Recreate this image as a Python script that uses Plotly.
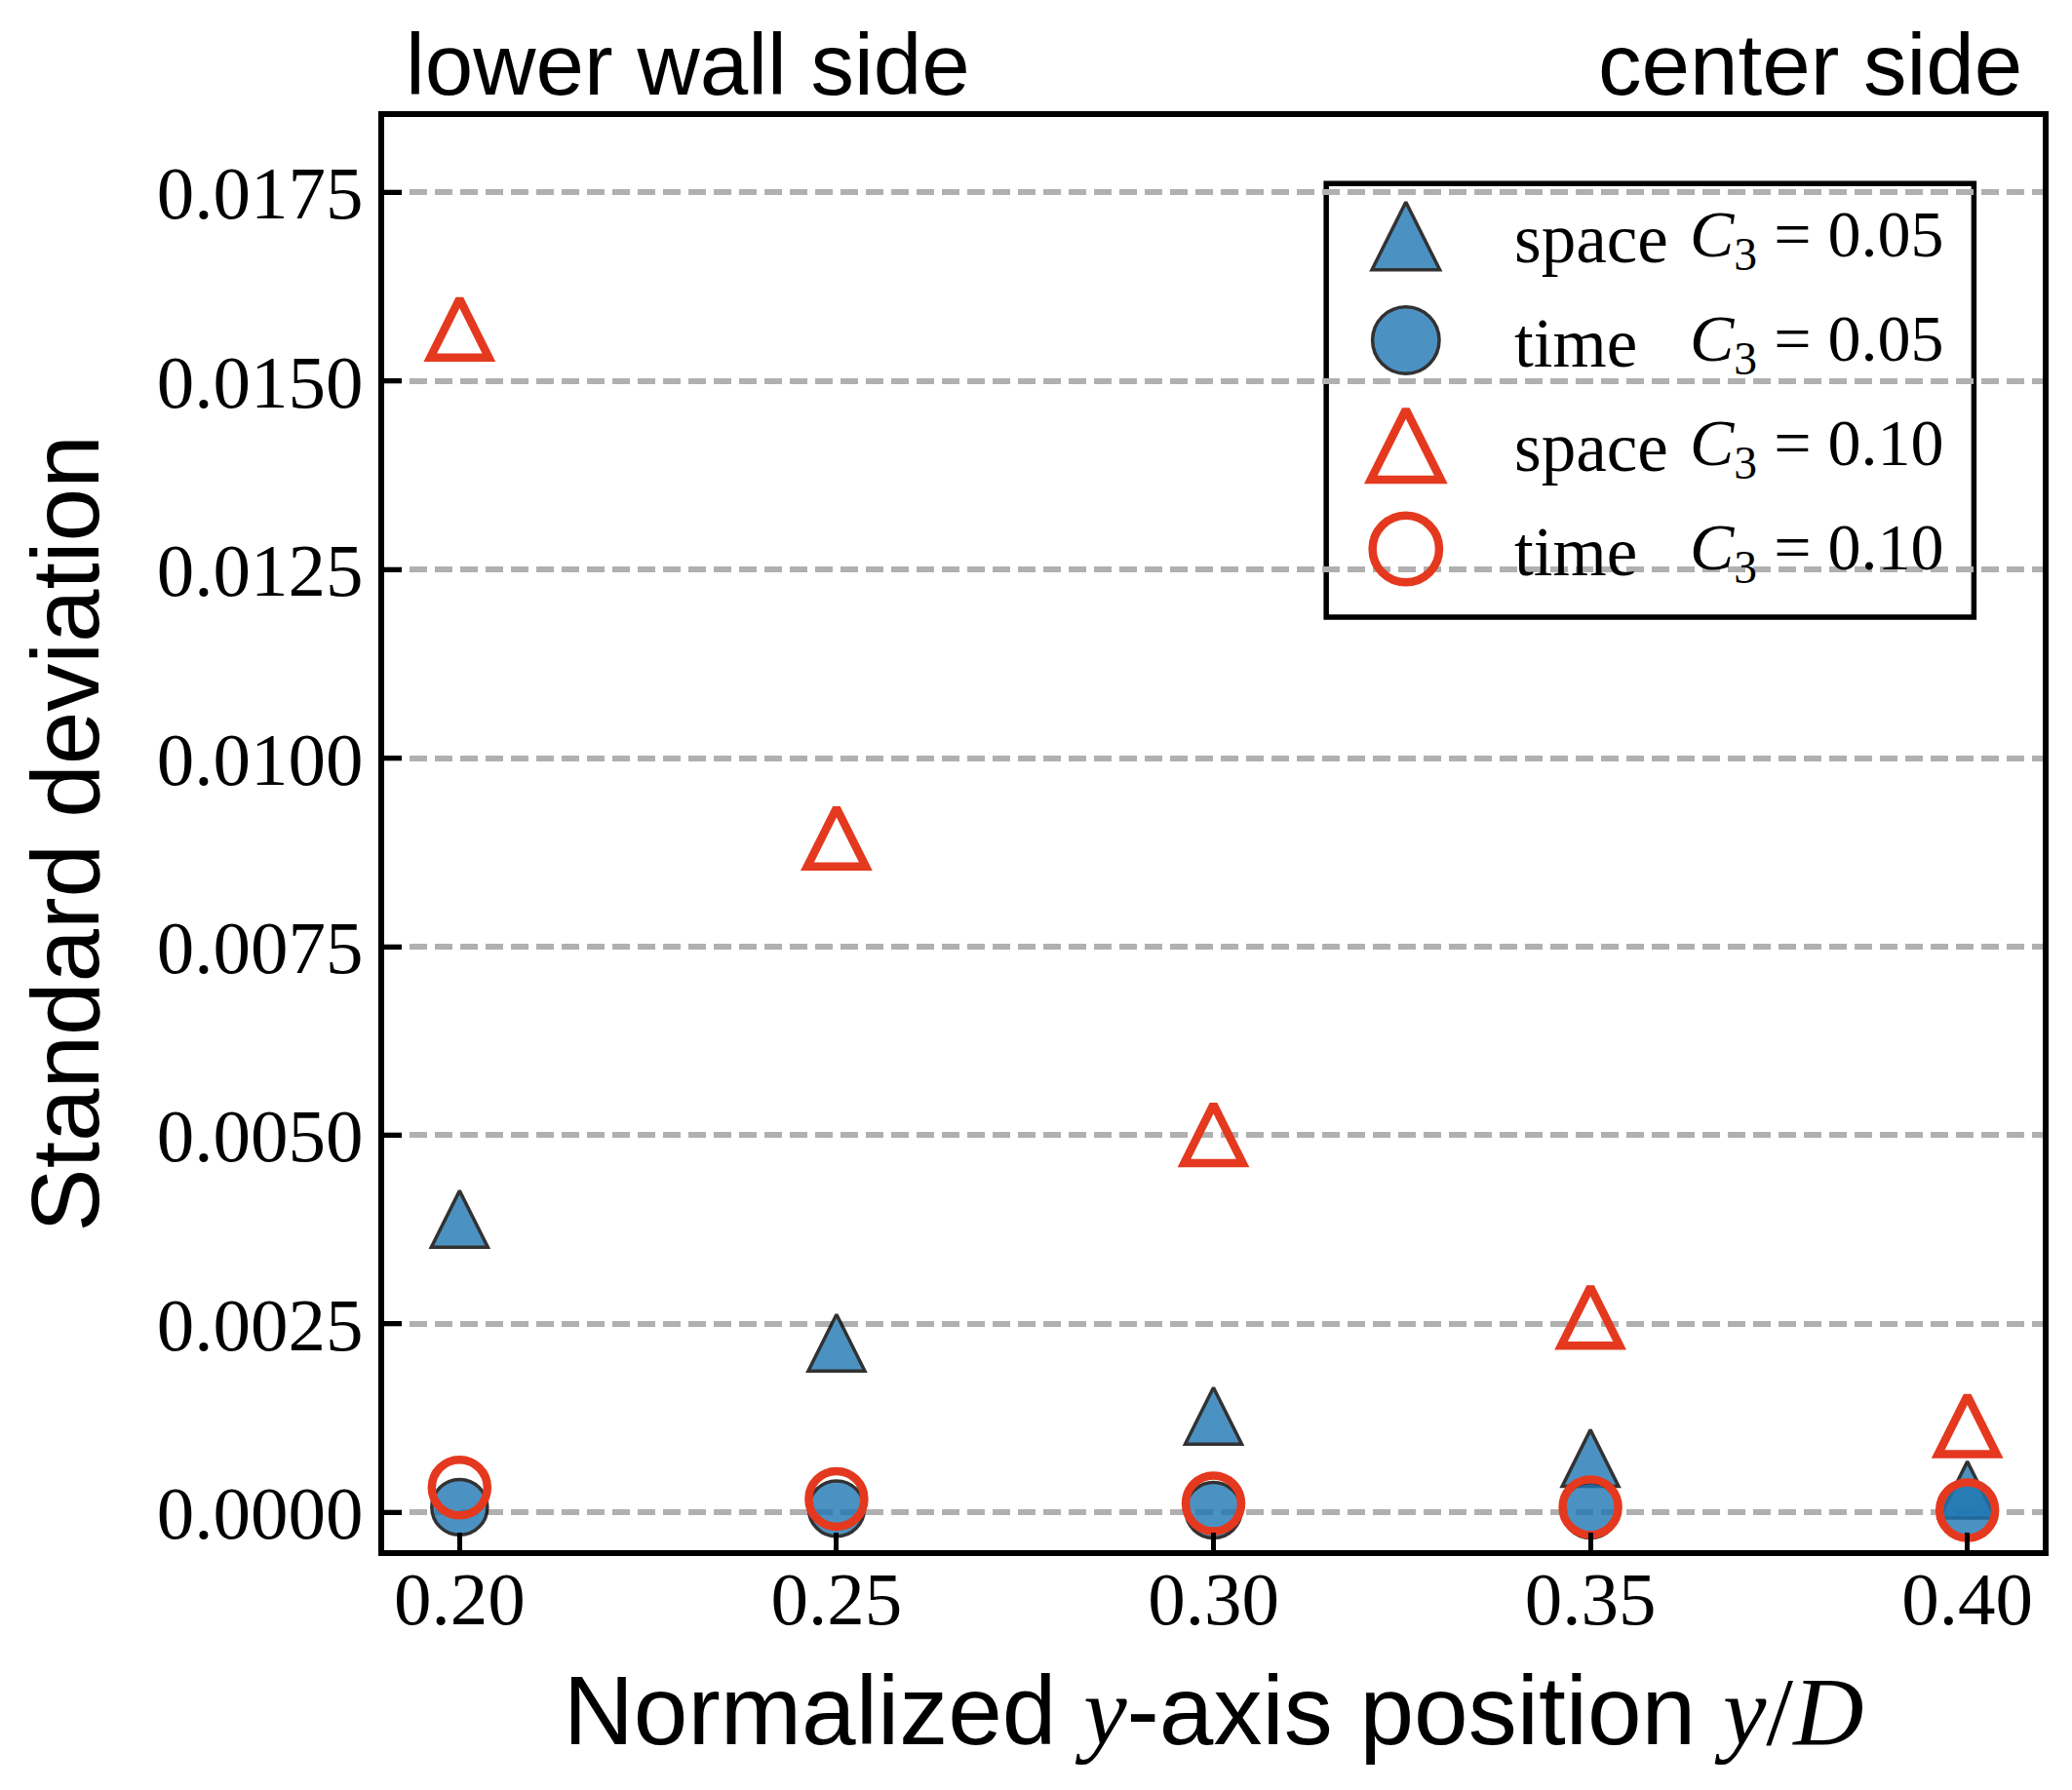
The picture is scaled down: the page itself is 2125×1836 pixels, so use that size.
import plotly.graph_objects as go

# ---------------- data ----------------
y_pos = [0.20, 0.25, 0.30, 0.35, 0.40]
space_c005 = [0.00389, 0.00225, 0.00128, 0.00072, 0.00030]
time_c005 = [0.00007, 0.00005, 0.00003, 0.00003, 0.00004]
space_c010 = [0.01570, 0.00895, 0.00502, 0.00260, 0.00116]
time_c010 = [0.00033, 0.00018, 0.00012, 0.00007, 0.00003]

y_ticks = [0.0, 0.0025, 0.0050, 0.0075, 0.0100, 0.0125, 0.0150, 0.0175]
x_ticks = [0.20, 0.25, 0.30, 0.35, 0.40]

legend_words = ["space", "time", "space", "time"]
legend_formulas = ["<i>C</i><sub>3</sub> = 0.05", "<i>C</i><sub>3</sub> = 0.05",
                   "<i>C</i><sub>3</sub> = 0.10", "<i>C</i><sub>3</sub> = 0.10"]

# ---------------- styles ----------------
BLUE = "#1f77b4"
RED = "#e4391f"
CLEAR = "rgba(0,0,0,0)"
SERIF = "Liberation Serif"
SANS = "Liberation Sans"

# triangles: an 'arrow-down' rotated 180 deg and pushed by half its size gives a
# centred, up-pointing isosceles triangle (width == height) like matplotlib's '^'
series = [
    dict(y=space_c005, tri=True, fill=BLUE, lc="black", lw=3.5, size=58, op=0.8),
    dict(y=time_c005, tri=False, fill=BLUE, lc="black", lw=3.5, size=57, op=0.8),
    dict(y=space_c010, tri=True, fill=CLEAR, lc=RED, lw=8.5, size=60, op=1.0),
    dict(y=time_c010, tri=False, fill=CLEAR, lc=RED, lw=8.5, size=57, op=1.0),
]


def marker_style(s, scale=1.0):
    size = s["size"] * scale
    m = dict(size=size, color=s["fill"], opacity=s["op"],
             line=dict(color=s["lc"], width=s["lw"]))
    if s["tri"]:
        m.update(symbol="arrow-down", angle=180, standoff=size / 2)
    else:
        m.update(symbol="circle")
    return m


fig = go.Figure()
for s in series:
    fig.add_trace(go.Scatter(
        x=y_pos, y=s["y"], mode="markers", showlegend=False,
        marker=marker_style(s), cliponaxis=False, hoverinfo="skip"))

# ---------------- custom legend (drawn on an overlay unit axis) ----------------
LEG_KEY_X = 0.6160
LEG_TOP = 0.917
LEG_STEP = 0.0728
LEG_SCALE = 1.2
for i, s in enumerate(series):
    ry = LEG_TOP - i * LEG_STEP
    fig.add_trace(go.Scatter(
        x=[LEG_KEY_X], y=[ry], xaxis="x2", yaxis="y2", mode="markers", showlegend=False,
        marker=marker_style(s, LEG_SCALE), cliponaxis=False, hoverinfo="skip"))
    fig.add_annotation(x=0.680, y=ry - 0.002, xref="paper", yref="paper", text=legend_words[i],
                       showarrow=False, xanchor="left", yanchor="middle",
                       font=dict(family=SERIF, size=71, color="black"))
    fig.add_annotation(x=0.786, y=ry - 0.002, xref="paper", yref="paper", text=legend_formulas[i],
                       showarrow=False, xanchor="left", yanchor="middle",
                       font=dict(family=SERIF, size=68, color="black"))

fig.add_shape(type="rect", xref="paper", yref="paper", x0=0.5680, x1=0.9585, y0=0.6510, y1=0.9535,
              line=dict(color="black", width=5.5), fillcolor="white", layer="between")

# top annotations
fig.add_annotation(x=0.0, y=1.0, xref="paper", yref="paper", text="lower wall side", showarrow=False,
                   xanchor="left", yanchor="bottom", xshift=20, yshift=2,
                   font=dict(family=SANS, size=89, color="black"))
fig.add_annotation(x=1.0, y=1.0, xref="paper", yref="paper", text="center side", showarrow=False,
                   xanchor="right", yanchor="bottom", xshift=-19, yshift=2,
                   font=dict(family=SANS, size=89, color="black"))

xtitle = ('Normalized <span style="font-family:Liberation Serif"><i>y</i></span>-axis position '
          '<span style="font-family:Liberation Serif"><i>y</i>/<i>D</i></span>')

fig.update_layout(
    width=2125, height=1836,
    margin=dict(l=394, r=30, t=120, b=246, pad=0),
    paper_bgcolor="white", plot_bgcolor="white",
    xaxis=dict(range=[0.19, 0.41], tickvals=x_ticks, ticktext=[f"{v:.2f}" for v in x_ticks],
               ticks="inside", ticklen=18, tickwidth=5, tickcolor="black",
               showline=True, linecolor="black", linewidth=6, mirror=True,
               showgrid=False, zeroline=False, ticklabelstandoff=-22,
               tickfont=dict(family=SERIF, size=77, color="black"),
               title=dict(text=xtitle, font=dict(family=SANS, size=100, color="black"), standoff=39)),
    yaxis=dict(range=[-0.0005, 0.0185], tickvals=y_ticks, ticktext=[f"{v:.4f}" for v in y_ticks],
               ticks="inside", ticklen=18, tickwidth=5, tickcolor="black",
               showline=True, linecolor="black", linewidth=6, mirror=True,
               showgrid=True, gridcolor="#b0b0b0", gridwidth=6, griddash="18px,8px",
               zeroline=False,
               tickfont=dict(family=SERIF, size=77, color="black"),
               title=dict(text="Standard deviation", font=dict(family=SANS, size=98, color="black"),
                          standoff=29)),
    xaxis2=dict(overlaying="x", range=[0, 1], visible=False, anchor="y2"),
    yaxis2=dict(overlaying="y", range=[0, 1], visible=False, anchor="x2"),
)

fig.write_html("out.html", config={"displayModeBar": False},
               post_script="document.body.style.margin='0';")
